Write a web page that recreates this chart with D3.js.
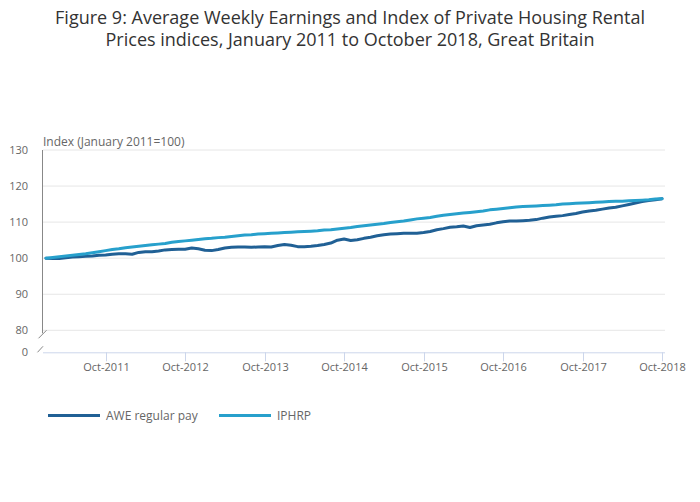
<!DOCTYPE html>
<html><head><meta charset="utf-8">
<script src="https://cdn.jsdelivr.net/npm/d3@7"></script>
<style>body{margin:0;background:#fff}svg{display:block;font-family:"Open Sans",sans-serif}</style>
</head><body><svg id="c" width="700" height="502"></svg>
<script>
const titleLines = ["Figure 9: Average Weekly Earnings and Index of Private Housing Rental","Prices indices, January 2011 to October 2018, Great Britain"];
const yAxisTitle = "Index (January 2011=100)";
const seriesNames = ["AWE regular pay","IPHRP"];
const seriesColors = ["#206095","#27a0cc"];
const awe = [
100.0,99.9,99.9,100.1,100.3,100.4,100.5,100.6,100.8,100.9,101.1,101.2,
101.2,101.1,101.6,101.8,101.8,102.0,102.3,102.4,102.5,102.5,102.8,102.6,
102.2,102.1,102.4,102.8,103.0,103.1,103.1,103.0,103.1,103.2,103.1,103.5,
103.8,103.6,103.2,103.2,103.3,103.5,103.8,104.2,105.0,105.3,104.9,105.1,
105.5,105.8,106.2,106.5,106.7,106.8,106.9,106.9,106.9,107.1,107.4,107.9,
108.2,108.6,108.7,108.9,108.5,109.0,109.2,109.4,109.8,110.1,110.3,110.3,
110.4,110.5,110.7,111.1,111.4,111.6,111.8,112.1,112.4,112.8,113.1,113.3,
113.6,113.9,114.1,114.5,114.9,115.3,115.7,116.0,116.2,116.5];
const iphrp = [
100.0,100.2,100.4,100.6,100.8,101.0,101.2,101.5,101.8,102.1,102.4,102.6,
102.9,103.1,103.3,103.5,103.7,103.9,104.1,104.4,104.6,104.8,105.0,105.2,
105.4,105.5,105.7,105.8,106.0,106.2,106.4,106.5,106.7,106.8,106.9,107.0,
107.1,107.2,107.3,107.4,107.5,107.6,107.8,107.9,108.1,108.3,108.5,108.8,
109.0,109.2,109.4,109.6,109.9,110.1,110.3,110.6,110.9,111.1,111.3,111.6,
111.9,112.1,112.3,112.5,112.7,112.9,113.1,113.4,113.6,113.8,114.0,114.2,
114.3,114.4,114.5,114.6,114.7,114.8,115.0,115.1,115.2,115.3,115.4,115.5,
115.6,115.7,115.8,115.8,115.9,116.0,116.1,116.2,116.4,116.5];
const xTickLabels = ["Oct-2011","Oct-2012","Oct-2013","Oct-2014","Oct-2015","Oct-2016","Oct-2017","Oct-2018"];
const xTickIndex = [9,21,33,45,57,69,81,93];
const yTicks = [0,80,90,100,110,120,130];

const svg = d3.select("#c");
const x = d3.scaleLinear().domain([-0.45, 93.45]).range([43, 665]);
const y = d3.scaleLinear().domain([0, 80, 130]).range([352.3, 330.3, 150]);

// title
svg.append("g").selectAll("text").data(titleLines).join("text")
  .attr("x",350).attr("y",(d,i)=>24+i*21.5).attr("text-anchor","middle").attr("fill","#333").attr("font-size",18).text(d=>d);

// gridlines
svg.append("g").selectAll("line").data(yTicks.filter(v=>v>0)).join("line")
  .attr("x1",43).attr("x2",665).attr("y1",d=>y(d)).attr("y2",d=>y(d))
  .attr("stroke","#e6e6e6").attr("stroke-width",1);

// y labels
svg.append("g").selectAll("text").data(yTicks).join("text")
  .attr("x",28).attr("y",d=>y(d)+4).attr("text-anchor","end").attr("fill","#666").attr("font-size",11).text(d=>d);

// y axis line with break
svg.append("line").attr("x1",42.5).attr("x2",42.5).attr("y1",y(130)).attr("y2",y(80)+3).attr("stroke","#888").attr("stroke-width",1);
svg.append("line").attr("x1",38.5).attr("y1",y(80)+8).attr("x2",46.5).attr("y2",y(80)).attr("stroke","#888").attr("stroke-width",1);
svg.append("line").attr("x1",37.5).attr("y1",y(0)).attr("x2",43).attr("y2",y(0)-6).attr("stroke","#888").attr("stroke-width",1);

// x axis
svg.append("line").attr("x1",43).attr("x2",665).attr("y1",y(0)+0.5).attr("y2",y(0)+0.5).attr("stroke","#ccd6eb").attr("stroke-width",1);
const xt = svg.append("g").selectAll("g").data(xTickIndex).join("g").attr("transform",d=>`translate(${Math.round(x(d))+0.5},0)`);
xt.append("line").attr("y1",y(0)).attr("y2",y(0)+9).attr("stroke","#ccd6eb");
xt.append("text").attr("y",371).attr("text-anchor","middle").attr("fill","#666").attr("font-size",11).text((d,i)=>xTickLabels[i]);

// y axis title
svg.append("text").attr("x",43).attr("y",146).attr("fill","#666").attr("font-size",12).text(yAxisTitle);

// lines
const line = d3.line().x((d,i)=>x(i)).y(d=>y(d));
[awe, iphrp].forEach((s,k)=>{
  svg.append("path").datum(s).attr("d",line).attr("fill","none").attr("stroke",seriesColors[k])
    .attr("stroke-width",3).attr("stroke-linejoin","round").attr("stroke-linecap","round");
});

// legend
const legX = [48, 219];
seriesNames.forEach((n,k)=>{
  const g = svg.append("g").attr("transform",`translate(${legX[k]},415.5)`);
  g.append("line").attr("x1",0).attr("x2",52).attr("stroke",seriesColors[k]).attr("stroke-width",3);
  g.append("text").attr("x",58).attr("y",4.5).attr("fill","#666").attr("font-size",12).text(n);
});
</script></body></html>
